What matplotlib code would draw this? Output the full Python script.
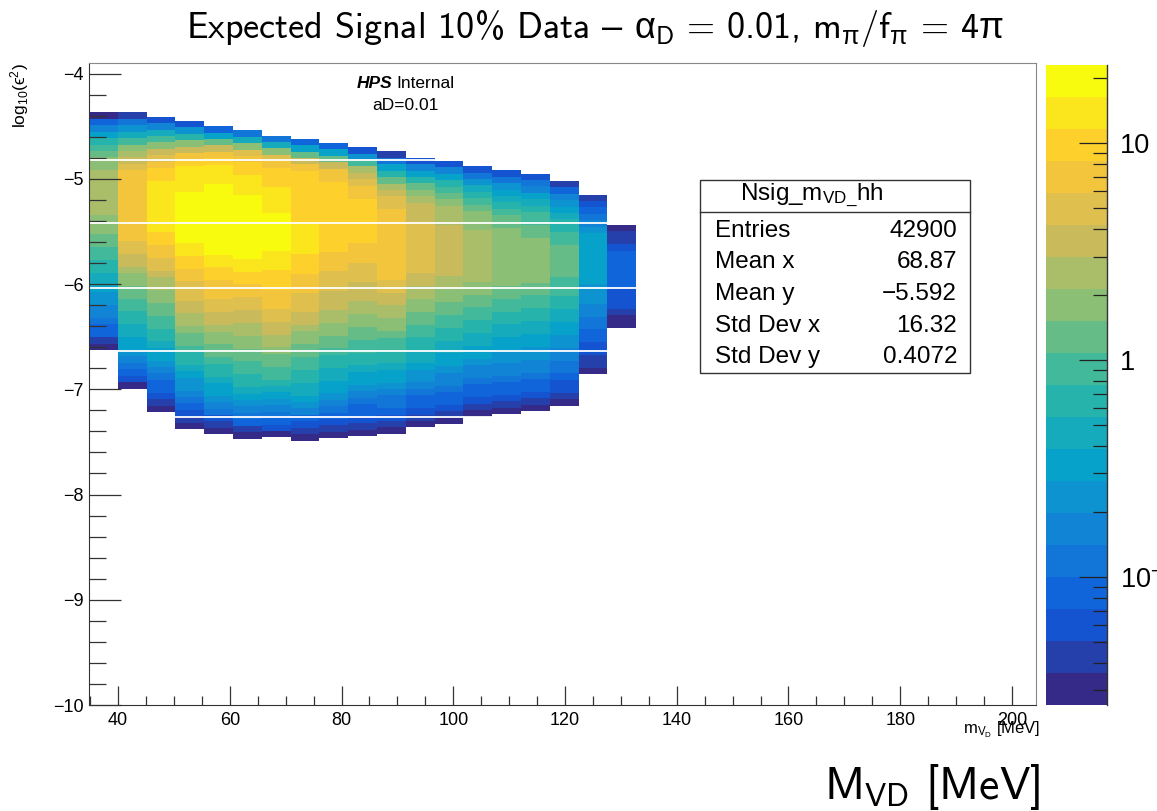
import numpy as np
import matplotlib.pyplot as plt
from matplotlib.colors import LinearSegmentedColormap, LogNorm
from matplotlib.cm import ScalarMappable
from matplotlib.patches import Rectangle
from matplotlib.lines import Line2D
from matplotlib.ticker import MultipleLocator, FixedLocator, NullFormatter

plt.rcParams['font.family'] = ['Liberation Sans', 'DejaVu Sans']
plt.rcParams['mathtext.fontset'] = 'custom'
plt.rcParams['mathtext.rm'] = 'Liberation Sans'
plt.rcParams['mathtext.it'] = 'Liberation Sans:italic'
plt.rcParams['mathtext.fallback'] = 'stixsans'

W, H = 1157, 811

# mass binning (MeV) and log10(eps^2) row height
mass_lo = 34.8
mass_w = 5.154
row_h = 0.061

# upper edge of the filled region in each mass column
col_top = [-4.37, -4.37, -4.41, -4.45, -4.50, -4.54, -4.59, -4.62, -4.66, -4.70,
           -4.74, -4.80, -4.83, -4.88, -4.92, -4.95, -5.02, -5.15, -5.44]

# contour band (0..19) of each row, top to bottom
col00 = [0, 3, 5, 7, 9, 10, 11, 12, 12, 13, 13, 13, 13, 13, 13, 13, 12, 12, 12, 11,
         11, 10, 10, 9, 9, 8, 8, 7, 6, 6, 5, 5, 4, 3, 3, 1, 0]
col01 = [1, 4, 6, 8, 10, 12, 13, 14, 15, 16, 16, 16, 16, 16, 16, 16, 16, 16, 16, 16,
         15, 15, 14, 14, 13, 12, 12, 11, 11, 10, 10, 9, 9, 8, 8, 7, 7, 6, 5, 4, 3, 2, 0]
col02 = [2, 5, 8, 10, 12, 14, 15, 16, 17, 17, 18, 18, 18, 18, 18, 18, 18, 18, 17, 17,
         16, 16, 15, 15, 14, 13, 13, 12, 12, 11, 11, 10, 10, 9, 9, 8, 7, 7, 6, 5,
         4, 3, 3, 2, 1, 0]
col03 = [2, 6, 9, 12, 14, 16, 17, 18, 18, 18, 18, 19, 19, 19, 19, 19, 19, 19, 19, 18,
         18, 17, 17, 16, 16, 15, 15, 15, 14, 14, 13, 13, 12, 11, 11, 10, 9, 9, 8, 7,
         6, 6, 5, 4, 3, 2, 1, 0]
col04 = [3, 7, 11, 14, 16, 17, 18, 18, 18, 19, 19, 19, 19, 19, 19, 19, 19, 19, 19, 19,
         18, 18, 17, 17, 16, 16, 16, 15, 15, 14, 14, 13, 12, 12, 11, 11, 10, 9, 9, 8,
         7, 7, 6, 5, 4, 2, 1, 0]
col05 = [4, 8, 12, 15, 16, 17, 17, 18, 18, 18, 19, 19, 19, 19, 19, 19, 19, 19, 19, 19,
         18, 18, 17, 17, 16, 16, 15, 15, 14, 14, 13, 13, 12, 12, 11, 11, 10, 10, 9, 9,
         8, 7, 6, 5, 4, 3, 1, 0]
col06 = [4, 8, 12, 15, 16, 17, 17, 17, 18, 18, 18, 18, 19, 19, 19, 19, 19, 19, 18, 18,
         18, 17, 17, 17, 16, 16, 16, 15, 15, 14, 14, 13, 13, 12, 11, 11, 10, 10, 9, 8,
         7, 6, 5, 4, 3, 2, 0]
col07 = [3, 7, 11, 14, 16, 17, 17, 17, 17, 17, 17, 17, 17, 18, 18, 18, 18, 18, 17, 17,
         17, 16, 16, 16, 15, 15, 15, 14, 14, 13, 12, 12, 11, 11, 10, 10, 9, 9, 8, 8,
         7, 6, 5, 3, 2, 1, 0]
col08 = [3, 7, 11, 14, 16, 16, 17, 17, 17, 17, 17, 17, 17, 17, 17, 17, 17, 16, 16, 16,
         15, 15, 15, 14, 14, 14, 13, 13, 12, 12, 11, 11, 10, 9, 9, 8, 8, 7, 7, 6,
         5, 4, 3, 2, 1, 0]
col09 = [2, 6, 10, 13, 14, 15, 16, 16, 17, 17, 17, 17, 17, 17, 17, 16, 16, 16, 15, 15,
         15, 14, 14, 14, 13, 13, 12, 12, 11, 11, 10, 10, 9, 9, 8, 7, 7, 6, 5, 4,
         3, 3, 2, 1, 0]
col10 = [1, 4, 7, 9, 11, 13, 14, 15, 15, 16, 16, 16, 16, 16, 16, 16, 16, 16, 16, 16,
         15, 15, 14, 14, 13, 13, 12, 12, 11, 10, 10, 9, 9, 8, 7, 7, 6, 5, 4, 4,
         3, 2, 1, 0]
col11 = [2, 5, 7, 9, 11, 12, 13, 14, 14, 14, 15, 15, 15, 15, 15, 15, 15, 15, 14, 14,
         13, 13, 12, 12, 11, 11, 10, 10, 9, 9, 8, 8, 7, 6, 6, 5, 4, 3, 3, 2, 1, 0]
col12 = [2, 5, 7, 9, 10, 11, 12, 13, 13, 13, 14, 14, 14, 14, 14, 14, 14, 14, 13, 13,
         12, 12, 11, 11, 10, 10, 9, 9, 8, 8, 7, 7, 6, 5, 5, 4, 3, 3, 2, 1, 0]
col13 = [2, 4, 6, 8, 9, 10, 11, 12, 12, 12, 13, 13, 13, 13, 13, 13, 13, 13, 12, 12,
         11, 11, 10, 10, 9, 9, 8, 8, 7, 7, 6, 5, 5, 4, 3, 3, 2, 1, 0]
col14 = [2, 4, 6, 7, 8, 9, 10, 11, 11, 12, 12, 12, 12, 12, 12, 12, 12, 12, 11, 11,
         10, 10, 9, 9, 8, 8, 7, 7, 6, 6, 5, 5, 4, 3, 3, 2, 1, 0]
col15 = [2, 4, 5, 7, 8, 9, 10, 10, 11, 11, 12, 12, 12, 12, 12, 12, 12, 11, 11, 10,
         10, 9, 9, 8, 8, 7, 7, 6, 6, 5, 5, 4, 3, 3, 2, 1, 0]
col16 = [1, 3, 5, 6, 7, 8, 9, 9, 10, 10, 11, 11, 11, 11, 11, 10, 10, 10, 9, 9,
         8, 8, 7, 7, 6, 6, 5, 5, 4, 4, 3, 2, 2, 1, 0]
col17 = [1, 2, 3, 4, 5, 6, 7, 7, 7, 7, 7, 7, 7, 7, 6, 6, 6, 5, 5, 4,
         4, 3, 3, 2, 2, 1, 1, 0]
col18 = [0, 1, 1, 2, 3, 3, 3, 3, 3, 3, 2, 2, 2, 1, 0, 0]

columns = [col00, col01, col02, col03, col04, col05, col06, col07, col08, col09,
           col10, col11, col12, col13, col14, col15, col16, col17, col18]

# palette z range and empty rows left by the binning
z_lo, z_hi = 0.0257, 22.9
gap_y = [-4.82, -5.42, -6.04, -6.64, -7.26]

stat_names = ['Entries', 'Mean x', 'Mean y', 'Std Dev x', 'Std Dev y']
stat_vals = ['42900', '68.87', '\u22125.592', '16.32', '0.4072']

xticks = [40, 60, 80, 100, 120, 140, 160, 180, 200]
yticks = [-10, -9, -8, -7, -6, -5, -4]
zticks = [0.1, 1, 10]
zlabels = [r'$\mathregular{10^{-1}}$', '1', '10']
zminor = [0.03, 0.04, 0.05, 0.06, 0.07, 0.08, 0.09,
          0.2, 0.3, 0.4, 0.5, 0.6, 0.7, 0.8, 0.9,
          2, 3, 4, 5, 6, 7, 8, 9, 20]

# ROOT kBird palette, 20 contours
bird_stops = [0.0, 0.125, 0.25, 0.375, 0.5, 0.625, 0.75, 0.875, 1.0]
bird_rgb = [(0.2082, 0.1664, 0.5293), (0.0592, 0.3599, 0.8684), (0.0780, 0.5041, 0.8385),
            (0.0232, 0.6419, 0.7914), (0.1802, 0.7178, 0.6425), (0.5301, 0.7492, 0.4662),
            (0.8186, 0.7328, 0.3499), (0.9956, 0.7862, 0.1968), (0.9764, 0.9832, 0.0539)]
bird = LinearSegmentedColormap.from_list('bird', list(zip(bird_stops, bird_rgb))).resampled(20)
norm = LogNorm(vmin=z_lo, vmax=z_hi)
lz_lo, lz_hi = np.log10(z_lo), np.log10(z_hi)
step = (lz_hi - lz_lo) / 20


def fx(px):
    return px / W


def fy(py):
    return 1 - py / H


fig = plt.figure(figsize=(W / 100, H / 100), dpi=100)
ax = fig.add_axes([fx(89), fy(705), fx(947), 642 / H])
cax = fig.add_axes([fx(1046), fy(705), fx(61), 640 / H])

for j, (top, lv) in enumerate(zip(col_top, columns)):
    nsig = 10 ** (lz_lo + (np.array(lv) + 0.5) * step)
    yedges = top - row_h * np.arange(len(lv) + 1)
    xedges = [mass_lo + j * mass_w, mass_lo + (j + 1) * mass_w]
    ax.pcolormesh(xedges, yedges, nsig[:, None], cmap=bird, norm=norm,
                  shading='flat', antialiased=False, linewidth=0, zorder=1)

ax.hlines(gap_y, mass_lo, mass_lo + len(columns) * mass_w, colors='white', lw=1.3, zorder=2)

ax.set_xlim(34.8, 204.3)
ax.set_ylim(-10, -3.9)
ax.set_xticks(xticks)
ax.set_yticks(yticks)
ax.xaxis.set_minor_locator(MultipleLocator(5))
ax.yaxis.set_minor_locator(MultipleLocator(0.2))
ax.tick_params(which='both', direction='in', top=False, right=False, color='#333', width=0.9)
ax.tick_params(axis='x', which='major', length=13.7, labelsize=13, pad=5)
ax.tick_params(axis='x', which='minor', length=6.8)
ax.tick_params(axis='y', which='major', length=23, labelsize=13, pad=4)
ax.tick_params(axis='y', which='minor', length=12)
for side in ['left', 'bottom']:
    ax.spines[side].set_color('#333')
for side in ['top', 'right']:
    ax.spines[side].set_color('#888')

# palette axis
cbar = fig.colorbar(ScalarMappable(norm=norm, cmap=bird), cax=cax)
cbar.outline.set_visible(False)
cbar.set_ticks(zticks, labels=zlabels)
cax.yaxis.set_minor_locator(FixedLocator(zminor))
cax.yaxis.set_minor_formatter(NullFormatter())
cax.tick_params(which='both', direction='in', color='#222', width=0.9, labelsize=19.5, pad=9)
cax.tick_params(which='major', length=20)
cax.tick_params(which='minor', length=10)
cax.plot([1, 1], [0, 1], transform=cax.transAxes, color='#333', lw=1, clip_on=False)

# titles
fig.text(fx(595), fy(38),
         'Expected Signal 10% Data $\\mathrm{\u2013}$ $\\mathrm{\\alpha}_\\mathregular{D}$ = 0.01, '
         'm$_\\mathrm{\\pi}$/f$_\\mathrm{\\pi}$ = 4$\\mathrm{\\pi}$',
         ha='center', va='baseline', fontsize=26, family='cmss10')
fig.text(fx(1040), fy(799), 'M$_\\mathregular{VD}$ [MeV]', ha='right', va='baseline',
         fontsize=33, family='cmss10')
fig.text(fx(1040), fy(733), 'm$_\\mathregular{V_D}$ [MeV]', ha='right', va='baseline',
         fontsize=12)
fig.text(fx(20), fy(63), 'log$_\\mathregular{10}$(\u03f5$^\\mathregular{2}$)', rotation=90,
         ha='center', va='top', fontsize=12.5)

# labels inside the frame
fig.text(fx(392), fy(88), 'HPS', ha='right', va='baseline', fontsize=12.5,
         fontweight='bold', fontstyle='italic')
fig.text(fx(396), fy(88), 'Internal', ha='left', va='baseline', fontsize=12.5)
fig.text(fx(405), fy(110), 'aD=0.01', ha='center', va='baseline', fontsize=12.5)

# stats box
fig.add_artist(Rectangle((fx(700), fy(373)), fx(270), 193 / H, transform=fig.transFigure,
                         facecolor='white', edgecolor='#333', lw=1, zorder=5))
fig.add_artist(Line2D([fx(700), fx(970)], [fy(212), fy(212)], transform=fig.transFigure,
                      color='#333', lw=1, zorder=6))
fig.text(fx(812), fy(200), 'Nsig_m$_\\mathregular{VD\\_}$hh', ha='center', va='baseline',
         fontsize=17.5, zorder=7)
for i, (name, val) in enumerate(zip(stat_names, stat_vals)):
    yb = 237 + i * 31.5
    fig.text(fx(715), fy(yb), name, ha='left', va='baseline', fontsize=17.5, zorder=7)
    fig.text(fx(957), fy(yb), val, ha='right', va='baseline', fontsize=17.5, zorder=7)

fig.savefig('out.png', dpi=100, facecolor='white')
